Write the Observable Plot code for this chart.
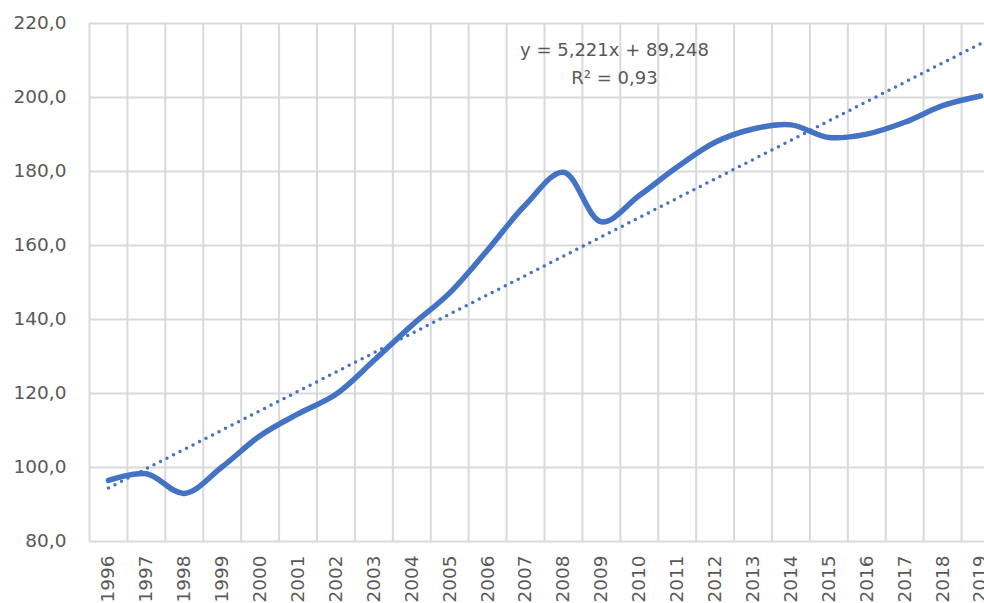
<!DOCTYPE html>
<html>
<head>
<meta charset="utf-8">
<script src="https://cdn.jsdelivr.net/npm/d3@7"></script>
<script src="https://cdn.jsdelivr.net/npm/@observablehq/plot@0.6"></script>
<style>
  html, body { margin: 0; padding: 0; background: #fff; overflow: hidden; }
  #chart { width: 984px; height: 603px; overflow: hidden; }
  #chart svg { max-width: none !important; }
</style>
</head>
<body>
<div id="chart"></div>
<script>
const years = [1996, 1997, 1998, 1999, 2000, 2001, 2002, 2003, 2004, 2005, 2006, 2007,
               2008, 2009, 2010, 2011, 2012, 2013, 2014, 2015, 2016, 2017, 2018, 2019];
const values = [96.5, 98.3, 93.0, 100.2, 108.6, 114.5, 119.8, 128.9, 138.4, 147.2, 158.8, 171.0,
                179.8, 166.4, 173.5, 181.2, 187.9, 191.5, 192.6, 189.2, 190.1, 193.3, 197.8, 200.4];
const yTicks = [80, 100, 120, 140, 160, 180, 200, 220];
// Trendline from the equation printed on the chart: y = 5,221x + 89,248 (x = 1..24)
const trendSlope = 5.221;
const trendIntercept = 89.248;
const trendLabel = "y = 5,221x + 89,248\nR² = 0,93";

const data = years.map((year, i) => ({year, value: values[i]}));
const trend = [years[0], years[years.length - 1]].map(year => ({
  year, value: trendSlope * (years.indexOf(year) + 1) + trendIntercept
}));
const boundaries = years.map(y => y - 0.5).concat([years[years.length - 1] + 0.5]);

const fmt = d => d3.format(".1f")(d).replace(".", ",");
const FONT = "DejaVu Sans, Liberation Sans, Arial, sans-serif";
const GRID = "#d9d9d9";
const BLUE = "#4472C4";

const chart = Plot.plot({
  width: 1000,
  height: 603,
  marginLeft: 89,
  marginRight: 1,
  marginTop: 23,
  marginBottom: 62,
  style: {fontFamily: FONT, color: "#595959", background: "#fff", overflow: "visible", maxWidth: "none"},
  x: {type: "linear", domain: [years[0] - 0.5, years[years.length - 1] + 0.5]},
  y: {domain: [80, 220]},
  marks: [
    Plot.gridY(yTicks, {stroke: GRID, strokeOpacity: 1, strokeWidth: 2}),
    Plot.ruleX(boundaries, {stroke: GRID, strokeOpacity: 1, strokeWidth: 2}),
    Plot.axisY(yTicks, {tickFormat: fmt, tickSize: 0, tickPadding: 23, fontSize: 18.5, label: null, fill: "#595959"}),
    Plot.axisX(years, {tickFormat: d => String(d), tickSize: 0, tickPadding: 14, tickRotate: -90, fontSize: 18.5, label: null, fill: "#595959"}),
    Plot.line(trend, {x: "year", y: "value", stroke: BLUE, strokeWidth: 3.5, strokeDasharray: "0,7.3", strokeLinecap: "round"}),
    Plot.line(data, {x: "year", y: "value", stroke: BLUE, strokeWidth: 5.5, curve: "catmull-rom", strokeLinecap: "round"}),
    Plot.text([trendLabel], {frameAnchor: "top", dx: 70, dy: 13, lineAnchor: "top", lineHeight: 1.55, fontSize: 18, fill: "#595959"})
  ]
});
document.getElementById("chart").appendChild(chart);
</script>
</body>
</html>
